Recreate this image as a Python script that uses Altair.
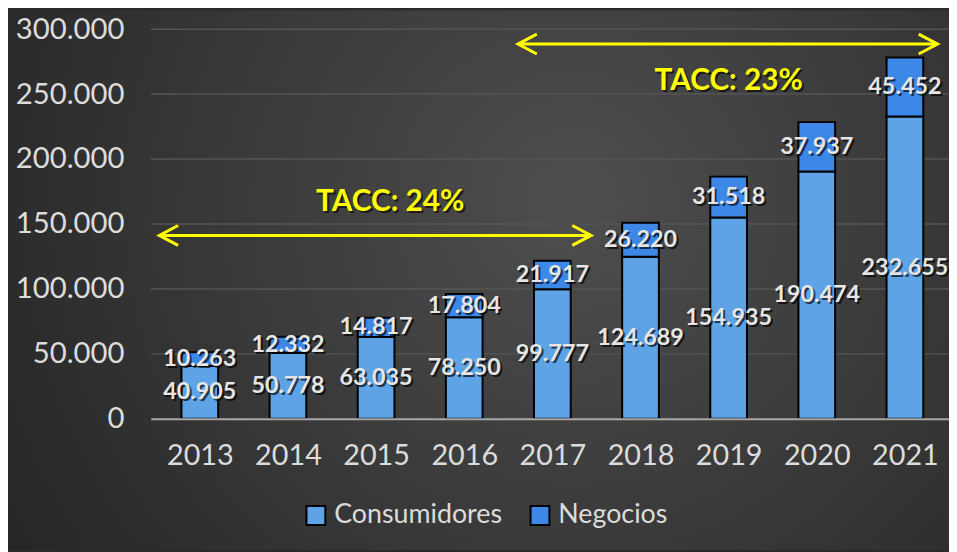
import altair as alt
import pandas as pd

years = [2013, 2014, 2015, 2016, 2017, 2018, 2019, 2020, 2021]
consumidores = [40905, 50778, 63035, 78250, 99777, 124689, 154935, 190474, 232655]
negocios = [10263, 12332, 14817, 17804, 21917, 26220, 31518, 37937, 45452]
series_names = ["Consumidores", "Negocios"]
series_colors = ["#5ea3e6", "#3d87e6"]
y_ticks = [0, 50000, 100000, 150000, 200000, 250000, 300000]

tacc_labels = ["TACC: 24%", "TACC: 23%"]
tacc_x = [2015.16, 2019.0]
tacc_y = [167000, 260000]
arrow_start = [2012.54, 2016.61]
arrow_end = [2017.44, 2021.37]
arrow_y = [141200, 288500]

FONT = "Lato"


def fmt(v):
    return f"{v:,}".replace(",", ".")


rows = []
for i, yr in enumerate(years):
    for k, (name, vals) in enumerate(zip(series_names, [consumidores, negocios])):
        rows.append({"year": yr, "series": name, "value": vals[i], "order": k, "label": fmt(vals[i])})
df = pd.DataFrame(rows)

tacc_df = pd.DataFrame({"x": tacc_x, "y": tacc_y, "label": tacc_labels})
arrow_df = pd.DataFrame({"x": arrow_start, "x2": arrow_end, "y": arrow_y})
heads = []
for s, e, yv in zip(arrow_start, arrow_end, arrow_y):
    heads.append({"x": s, "y": yv, "side": "left"})
    heads.append({"x": e, "y": yv, "side": "right"})
heads_df = pd.DataFrame(heads)
grid_df = pd.DataFrame({"tick": y_ticks[1:]})

W, H = 805, 393
PL, PT, PR, PB = 144, 19, 0, 132

xscale = alt.Scale(domain=[2012.5, 2021.444], nice=False, zero=False)
yscale = alt.Scale(domain=[0, 300000], nice=False)

xaxis = alt.Axis(
    values=years, format="d", title=None, grid=False, ticks=False, tickSize=0,
    labelFont=FONT, labelFontSize=29, labelColor="#dcdcdc", labelPadding=23,
    labelFlush=False, labelOverlap=False, zindex=1,
    domain=True, domainColor="#a8a8a8", domainWidth=2,
)
yaxis = alt.Axis(
    values=y_ticks, title=None, ticks=False, tickSize=0, domain=False,
    grid=False, zindex=1,
    labelFont=FONT, labelFontSize=29.5, labelColor="#dcdcdc", labelPadding=27,
    labelExpr="replace(format(datum.value, ','), ',', '.')",
)


def X(field):
    return alt.X(field, scale=xscale, axis=xaxis, title=None)


def Y(field, **kw):
    return alt.Y(field, scale=yscale, axis=yaxis, title=None, **kw)


bg = alt.Chart(pd.DataFrame({"a": [0]})).mark_rect(
    fill={
        "gradient": "radial",
        "stops": [
            {"offset": 0, "color": "#4e4e4e"},
            {"offset": 1, "color": "#232323"},
        ],
        "x1": 0.6, "y1": 0.42, "r1": 0,
        "x2": 0.6, "y2": 0.42, "r2": 0.75,
    }
).encode(
    x=alt.value(-PL), x2=alt.value(W + PR),
    y=alt.value(-PT), y2=alt.value(H + PB),
)

grid = alt.Chart(grid_df).mark_rule(color="#555555", strokeWidth=1.5).encode(
    y=Y("tick:Q"),
)

bars = alt.Chart(df).mark_bar(size=37, stroke="black", strokeWidth=2).encode(
    x=X("year:Q"),
    y=Y("value:Q", stack="zero"),
    color=alt.Color(
        "series:N",
        scale=alt.Scale(domain=series_names, range=series_colors),
        legend=alt.Legend(
            title=None, orient="none", direction="horizontal",
            legendX=153, legendY=477,
            symbolType="square", symbolSize=361, symbolStrokeColor="black",
            symbolStrokeWidth=2, symbolOpacity=1,
            labelFont=FONT, labelFontSize=27, labelColor="#dcdcdc", labelLimit=400,
            labelOffset=5, columnPadding=24, padding=0,
        ),
    ),
    order=alt.Order("order:Q"),
)

label_base = alt.Chart(df).transform_stack(
    stack="value", groupby=["year"], as_=["v0", "v1"],
    sort=[alt.SortField("order", order="ascending")],
).transform_calculate(mid="(datum.v0 + datum.v1) / 2")

label_shadow = label_base.mark_text(
    font=FONT, fontSize=23.5, fontWeight="bold", color="black", opacity=0.65,
    dx=2, dy=2, baseline="middle",
).encode(x=X("year:Q"), y=Y("mid:Q"), text="label:N")
labels = label_base.mark_text(
    font=FONT, fontSize=23.5, fontWeight="bold", color="#e6e6e6", baseline="middle",
).encode(x=X("year:Q"), y=Y("mid:Q"), text="label:N")

arrows = alt.Chart(arrow_df).mark_rule(color="#ffff00", strokeWidth=3).encode(
    x=X("x:Q"), x2="x2:Q", y=Y("y:Q"),
)
arrow_heads = alt.Chart(heads_df).mark_point(
    filled=False, stroke="#ffff00", strokeWidth=3, size=400, opacity=1,
).encode(
    x=X("x:Q"), y=Y("y:Q"),
    shape=alt.Shape(
        "side:N",
        scale=alt.Scale(domain=["left", "right"], range=["M1.9,-1L0,0L1.9,1", "M-1.9,-1L0,0L-1.9,1"]),
        legend=None,
    ),
)

tacc_shadow = alt.Chart(tacc_df).mark_text(
    font=FONT, fontSize=30, fontWeight="bold", color="black", opacity=0.6,
    dx=2, dy=2, baseline="middle",
).encode(x=X("x:Q"), y=Y("y:Q"), text="label:N")
tacc = alt.Chart(tacc_df).mark_text(
    font=FONT, fontSize=30, fontWeight="bold", color="#ffff00", baseline="middle",
).encode(x=X("x:Q"), y=Y("y:Q"), text="label:N")

chart = alt.layer(
    bg, grid, bars, label_shadow, labels, arrows, arrow_heads, tacc_shadow, tacc
).properties(
    width=W, height=H,
    autosize=alt.AutoSizeParams(type="none"),
    padding={"left": PL, "top": PT, "right": PR, "bottom": PB},
    background="#2a2a2a",
).configure_view(stroke=None)

chart.save("out.html", embed_options={"renderer": "svg", "actions": False})
